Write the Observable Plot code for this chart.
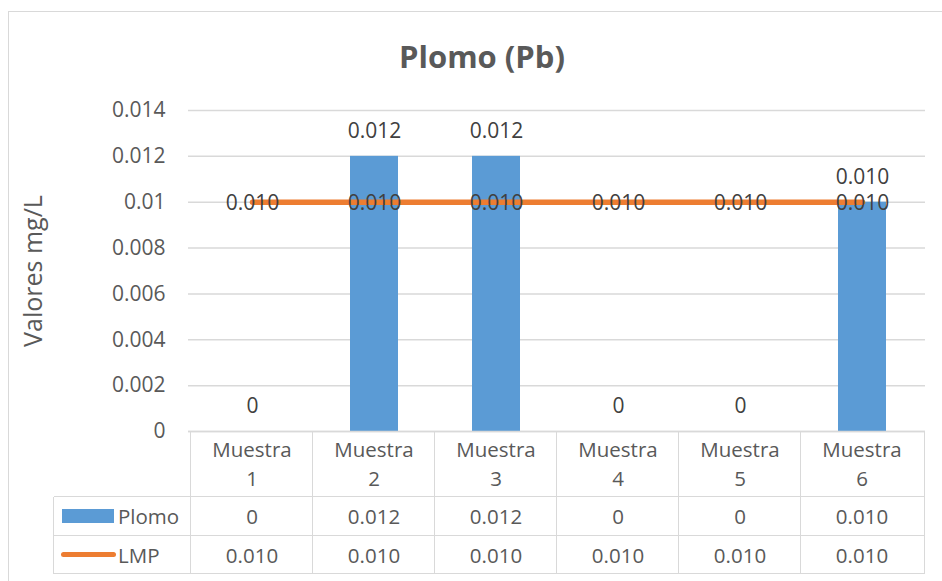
<!DOCTYPE html>
<html><head><meta charset="utf-8">
<script src="https://cdn.jsdelivr.net/npm/d3@7"></script>
<script src="https://cdn.jsdelivr.net/npm/@observablehq/plot@0.6"></script>
<style>
body{margin:0;background:#fff;}
#wrap{position:relative;width:942px;height:581px;overflow:hidden;font-family:"Open Sans",sans-serif;color:#595959;background:#fff;}
#border{position:absolute;left:8px;top:11px;width:960px;height:620px;border:1.5px solid #d9d9d9;box-sizing:border-box;}
#title{position:absolute;left:8px;width:948px;top:35px;text-align:center;font-weight:bold;font-size:31px;line-height:42px;color:#595959;}
#chart{position:absolute;left:0;top:90px;}
.cell{position:absolute;text-align:center;font-size:20.5px;color:#595959;white-space:nowrap;}
.hl{position:absolute;height:0;border-top:1.5px solid #d9d9d9;}
.vl{position:absolute;width:0;border-left:1.5px solid #d9d9d9;}
</style>
</head><body>
<div id="wrap">
  <div id="border"></div>
  <div id="title">Plomo (Pb)</div>
  <div id="chart"></div>
</div>
<script>
const categories = ["Muestra 1","Muestra 2","Muestra 3","Muestra 4","Muestra 5","Muestra 6"];
const plomo = [0, 0.012, 0.012, 0, 0, 0.010];
const lmp = [0.010, 0.010, 0.010, 0.010, 0.010, 0.010];
const plomoLabels = ["0","0.012","0.012","0","0","0.010"];
const lmpLabels = ["0.010","0.010","0.010","0.010","0.010","0.010"];
const yTicks = [0, 0.002, 0.004, 0.006, 0.008, 0.01, 0.012, 0.014];
const yTickLabels = ["0","0.002","0.004","0.006","0.008","0.01","0.012","0.014"];
const seriesNames = ["Plomo","LMP"];
const title = "Plomo (Pb)";
const yLabel = "Valores mg/L";

const data = categories.map((c,i)=>({cat:c, plomo:plomo[i], lmp:lmp[i], pl:plomoLabels[i], ll:lmpLabels[i]}));

const W = 942, mL = 188, mR = 17, mT = 20, mB = 16, H = 357;
const chart = Plot.plot({
  width: W, height: H,
  marginLeft: mL, marginRight: mR, marginTop: mT, marginBottom: mB,
  style: {fontFamily: "Open Sans, sans-serif", fontSize: "20px", color: "#595959", background: "transparent", overflow: "visible"},
  x: {type: "band", domain: categories, padding: 0, axis: null},
  y: {domain: [0, 0.014], axis: null},
  marks: [
    Plot.gridY(yTicks, {stroke: "#d9d9d9", strokeOpacity: 1, strokeWidth: 1.5}),
    Plot.axisY(yTicks, {tickSize: 0, tickPadding: 23, tickFormat: d => yTickLabels[yTicks.indexOf(d)], fontSize: 21, fill: "#595959", label: null}),
    Plot.barY(data, {x: "cat", y: "plomo", fill: "#5B9BD5", insetLeft: 37, insetRight: 37}),
    Plot.ruleY([0], {stroke: "#d9d9d9", strokeWidth: 1.5}),
    Plot.line(data, {x: "cat", y: "lmp", stroke: "#ED7D31", strokeWidth: 5.5, strokeLinecap: "round"}),
    Plot.text(data, {x: "cat", y: "plomo", text: "pl", dy: -25, fontSize: 21, fill: "#404040"}),
    Plot.text(data, {x: "cat", y: "lmp", text: "ll", dy: 1, fontSize: 21, fill: "#404040"}),
    Plot.text([yLabel], {frameAnchor: "left", textAnchor: "middle", dx: -155, rotate: -90, fontSize: 25, fill: "#595959"})
  ]
});
document.getElementById("chart").appendChild(chart);

// data table below the plot, aligned to the band scale
const wrap = d3.select("#wrap");
const xs = chart.scale("x");
const bw = xs.bandwidth;
const top0 = 90 + H - mB; // y of zero line
const r1 = 497, r2 = 536, r3 = 574;
const tableLeft = 54, tableRight = W - mR;
[r1, r2, r3].forEach(y => wrap.append("div").attr("class","hl").style("left", tableLeft+"px").style("top", (y-0.75)+"px").style("width", (tableRight-tableLeft)+"px"));
categories.forEach((c,i) => {
  const x0 = xs.apply(c);
  wrap.append("div").attr("class","vl").style("left",(x0-0.75)+"px").style("top",top0+"px").style("height",(r3-top0)+"px");
});
wrap.append("div").attr("class","vl").style("left",(tableRight-0.75)+"px").style("top",top0+"px").style("height",(r3-top0)+"px");
wrap.append("div").attr("class","vl").style("left",(tableLeft-0.75)+"px").style("top",r1+"px").style("height",(r3-r1)+"px");
categories.forEach((c,i) => {
  const x0 = xs.apply(c);
  const parts = c.split(" ");
  wrap.append("div").attr("class","cell").style("left",x0+"px").style("width",bw+"px").style("top",(top0+4)+"px").style("line-height","29px").html(parts[0]+"<br>"+parts[1]);
  wrap.append("div").attr("class","cell").style("left",x0+"px").style("width",bw+"px").style("top",r1+"px").style("line-height",(r2-r1)+"px").text(plomoLabels[i]);
  wrap.append("div").attr("class","cell").style("left",x0+"px").style("width",bw+"px").style("top",r2+"px").style("line-height",(r3-r2)+"px").text(lmpLabels[i]);
});
wrap.append("div").style("position","absolute").style("left","62px").style("top","509px").style("width","52px").style("height","14px").style("background","#5B9BD5");
wrap.append("div").style("position","absolute").style("left","61px").style("top","552px").style("width","55px").style("height","5px").style("border-radius","3px").style("background","#ED7D31");
wrap.append("div").attr("class","cell").style("left","118px").style("top",r1+"px").style("line-height",(r2-r1)+"px").style("text-align","left").text(seriesNames[0]);
wrap.append("div").attr("class","cell").style("left","118px").style("top",r2+"px").style("line-height",(r3-r2)+"px").style("text-align","left").text(seriesNames[1]);
</script>
</body></html>
